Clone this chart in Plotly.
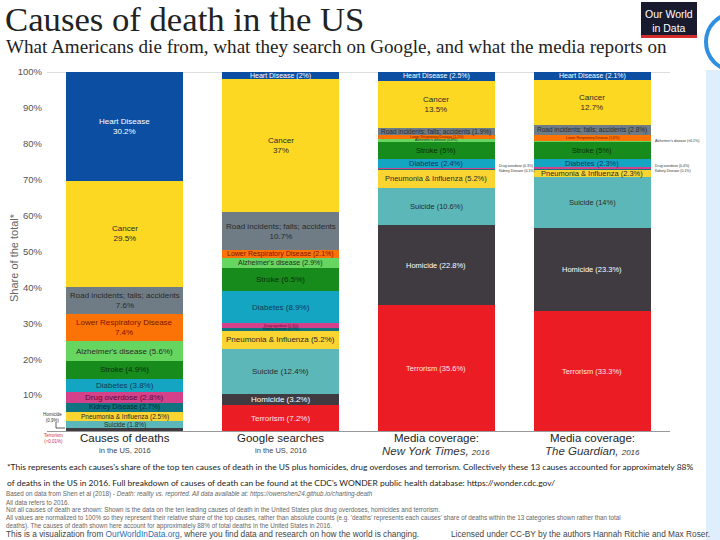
import plotly.graph_objects as go

# ---------------- data ----------------
columns = ["Causes of deaths", "Google searches", "Media coverage: New York Times", "Media coverage: The Guardian"]
causes = ["Terrorism", "Homicide", "Suicide", "Pneumonia & Influenza", "Kidney Disease",
          "Drug overdose", "Diabetes", "Stroke", "Alzheimer's disease",
          "Lower Respiratory Disease", "Road incidents; falls; accidents", "Cancer", "Heart Disease"]
deaths   = [0.005, 0.9, 1.8, 2.5, 2.7, 2.8, 3.8, 4.9, 5.6, 7.4, 7.6, 29.5, 30.2]
google   = [7.2, 3.2, 12.4, 5.2, 0.7, 1.3, 8.9, 6.5, 2.9, 2.1, 10.7, 37.0, 2.0]
nyt      = [35.6, 22.8, 10.6, 5.2, 0.1, 0.3, 2.4, 5.0, 0.8, 1.1, 1.9, 13.5, 2.5]
guardian = [33.3, 23.3, 14.0, 2.3, 0.1, 0.4, 2.3, 5.0, 0.05, 1.6, 2.8, 12.7, 2.1]
series = [deaths, google, nyt, guardian]
ytick_vals = [10, 20, 30, 40, 50, 60, 70, 80, 90, 100]

# ---------------- styles ----------------
colors = {"Terrorism": "#ec1c24", "Homicide": "#403b41", "Suicide": "#5cb8b8",
          "Pneumonia & Influenza": "#fad532", "Kidney Disease": "#0f7480",
          "Drug overdose": "#d5408a", "Diabetes": "#14a5c3", "Stroke": "#178b1b",
          "Alzheimer's disease": "#66d660", "Lower Respiratory Disease": "#fb7306",
          "Road incidents; falls; accidents": "#6f7c85", "Cancer": "#fdd822",
          "Heart Disease": "#0b4ea2"}
text_colors = {"Heart Disease": "white", "Homicide": "white", "Terrorism": "#ffe3e3",
               "Lower Respiratory Disease": "#7a1500", "Drug overdose": "#5e0c30",
               "Stroke": "#0d300d", "Diabetes": "#123a55", "Kidney Disease": "#062a2e"}
H, C, R, LR, AZ, ST, DB, DO, KD, PI, SU, HO, TE = ("Heart Disease", "Cancer",
    "Road incidents; falls; accidents", "Lower Respiratory Disease", "Alzheimer's disease",
    "Stroke", "Diabetes", "Drug overdose", "Kidney Disease", "Pneumonia & Influenza",
    "Suicide", "Homicide", "Terrorism")
label_styles = [
    {H: ("2", 8), C: ("2", 8), R: ("2", 8), LR: ("2", 8), AZ: ("1", 8), ST: ("1", 8),
     DB: ("1", 8), DO: ("1", 8), KD: ("1", 7), PI: ("1", 6.5), SU: ("1", 6.5),
     HO: ("L", 4.5), TE: ("L", 4.5)},
    {H: ("1", 7), C: ("2", 8), R: ("2", 8), LR: ("1", 7), AZ: ("1", 7), ST: ("1", 8),
     DB: ("1", 8), DO: ("1", 3.5), KD: ("1", 3.5), PI: ("1", 8), SU: ("1", 8),
     HO: ("1", 8), TE: ("1", 8)},
    {H: ("1", 7), C: ("2", 8), R: ("1", 6.5), LR: ("1", 3.5), AZ: ("1", 3.5), ST: ("1", 7.5),
     DB: ("1", 7.5), DO: ("R", 3.5), KD: ("R", 3.5), PI: ("1", 7.5), SU: ("1", 7.5),
     HO: ("1", 7.5), TE: ("1", 7.5)},
    {H: ("1", 7), C: ("2", 8), R: ("1", 6.5), LR: ("1", 3.5), AZ: ("R", 3.5), ST: ("1", 7.5),
     DB: ("1", 7.5), DO: ("R", 3.5), KD: ("R", 3.5), PI: ("1", 7.5), SU: ("1", 7.5),
     HO: ("1", 7.5), TE: ("1", 7.5)},
]

FONT = "Liberation Sans, Arial, sans-serif"
L, Rm, T, B = 47, 50, 72, 109
W, HH = 720, 540
PW, PH = W - L - Rm, HH - T - B


def px(x):
    return (x - L) / PW


def py(y):
    return (HH - B - y) / PH


def fmt(v):
    if v < 0.01:
        return "<0.01"
    if v < 0.1:
        return "<0.1"
    return "%g" % v


# normalise each column to 100% (as in the original chart)
norm = [[v / sum(s) * 100 for v in s] for s in series]

fig = go.Figure()
xs = list(range(len(columns)))
for k, cause in enumerate(causes):
    fig.add_trace(go.Bar(x=xs, y=[norm[c][k] for c in xs], name=cause, width=0.75,
                         marker=dict(color=colors[cause], line=dict(width=0)),
                         hoverinfo="skip", showlegend=False))

ann = []
for c in xs:
    cum = 0
    for k, cause in enumerate(causes):
        h = norm[c][k]
        mid = cum + h / 2
        cum += h
        mode, size = label_styles[c][cause]
        val = fmt(series[c][k])
        tc = text_colors.get(cause, "#2a2a2a")
        if mode == "2":
            ann.append(dict(x=c, y=mid, text=f"{cause}<br>{val}%", font=dict(size=size, color=tc)))
        elif mode == "1":
            ann.append(dict(x=c, y=mid, text=f"{cause} ({val}%)", font=dict(size=size, color=tc)))
        elif mode == "R":
            ys = {"Drug overdose": 2, "Kidney Disease": -2}.get(cause, 0)
            ann.append(dict(x=c + 0.375, y=mid, text=f"{cause} ({val}%)", xanchor="left",
                            xshift=2, yshift=ys, font=dict(size=size, color="#333")))
        elif mode == "L":
            if cause == "Homicide":
                ann.append(dict(x=c - 0.375, y=mid, text=f"{cause}<br>({val}%)", xanchor="right",
                                xshift=-2, yshift=12, font=dict(size=size, color="#333")))
            else:
                ann.append(dict(x=c - 0.375, y=mid, text=f"{cause}<br>({val}%)", xanchor="right",
                                xshift=-1, yshift=-8, font=dict(size=size, color="#d0304a")))
for a in ann:
    a.setdefault("xref", "x")
    a.setdefault("yref", "y")
    a.setdefault("showarrow", False)
    a.setdefault("xanchor", "center")
    a.setdefault("yanchor", "middle")

# column captions
caps = [("Causes of deaths", "in the US, 2016", False),
        ("Google searches", "in the US, 2016", False),
        ("Media coverage:", "<i>New York Times, <span style='font-size:8px'>2016</span></i>", True),
        ("Media coverage:", "<i>The Guardian, <span style='font-size:8px'>2016</span></i>", True)]
for c, (t1, t2, big) in enumerate(caps):
    ann.append(dict(x=c, y=py(438), xref="x", yref="paper", text=t1, showarrow=False,
                    font=dict(size=11.5, color="#222"), yanchor="middle"))
    ann.append(dict(x=c, y=py(451 if big else 450), xref="x", yref="paper", text=t2, showarrow=False,
                    font=dict(size=11.5 if big else 7.5, color="#333" if big else "#444"), yanchor="middle"))

def pann(x, y, text, size, color="#333", family=FONT, xanchor="left", **kw):
    ann.append(dict(x=px(x), y=py(y), xref="paper", yref="paper", text=text, showarrow=False,
                    xanchor=xanchor, yanchor="middle", font=dict(size=size, color=color, family=family), **kw))

SERIF = "Liberation Serif, DejaVu Serif, serif"
pann(3, 20, "Causes of death in the US", 34.7, "#222", SERIF)
pann(4, 47, "What Americans die from, what they search on Google, and what the media reports on", 19.1, "#222", SERIF)
pann(669, 21, "Our World<br>in Data", 10.5, "white", FONT, xanchor="center")
pann(14, 258, "Share of the total*", 11, "#666", textangle=-90, xanchor="center")

NARROW = "Lato, Roboto, sans-serif"
pann(5, 467, "*This represents each causes's share of the top ten causes of death in the US plus homicides, drug overdoses and terrorism. Collectively these 13 causes accounted for approximately 88%", 8.45, "#222", NARROW)
pann(5, 483, "of deaths in the US in 2016. Full breakdown of causes of death can be found at the CDC's WONDER public health database: https://wonder.cdc.gov/", 8.45, "#222", NARROW)
src = ["Based on data from Shen et al (2018) - <i>Death: reality vs. reported. All data available at: https://owenshen24.github.io/charting-death</i>",
       "All data refers to 2016.",
       "Not all causes of death are shown: Shown is the data on the ten leading causes of death in the United States plus drug overdoses, homicides and terrorism.",
       "All values are normalized to 100% so they represent their relative share of the top causes, rather than absolute counts (e.g. 'deaths' represents each causes' share of deaths within the 13 categories shown rather than total",
       "deaths). The causes of death shown here account for approximately 88% of total deaths in the United States in 2016."]
for i, s in enumerate(src):
    pann(4, 494 + i * 8, s, 6.3, "#666")
pann(4, 534, "This is a visualization from <span style='color:#1f6fb5'>OurWorldInData.org</span>, where you find data and research on how the world is changing.", 8.3, "#444")
pann(712, 534, "Licensed under CC-BY by the authors Hannah Ritchie and Max Roser.", 8.3, "#444", xanchor="right")

shapes = [
    dict(type="line", xref="paper", yref="y", x0=0, x1=1, y0=100, y1=100, line=dict(color="#bbbbbb", width=1), layer="below"),
    dict(type="rect", xref="paper", yref="paper", x0=px(641), x1=px(697), y0=py(38), y1=py(2),
         fillcolor="#1a1a2e", line=dict(width=0)),
    dict(type="rect", xref="paper", yref="paper", x0=px(641), x1=px(697), y0=py(38), y1=py(35),
         fillcolor="#d42b2b", line=dict(width=0)),
    dict(type="line", xref="paper", yref="paper", x0=px(56), x1=px(56), y0=py(422), y1=py(428), line=dict(color="#333", width=0.8)),
    dict(type="line", xref="paper", yref="paper", x0=px(56), x1=px(65), y0=py(428), y1=py(428), line=dict(color="#333", width=0.8)),
    dict(type="circle", xref="paper", yref="paper", x0=px(706), x1=px(760), y0=py(70), y1=py(14),
         line=dict(color="#2f8fe0", width=4)),
    dict(type="rect", xref="paper", yref="paper", x0=px(706), x1=px(720), y0=py(540), y1=py(70),
         fillcolor="rgba(160,205,245,0.35)", line=dict(width=0)),
]

fig.update_layout(
    width=W, height=HH, barmode="stack", bargap=0.25,
    margin=dict(l=L, r=Rm, t=T, b=B),
    paper_bgcolor="white", plot_bgcolor="white",
    font=dict(family=FONT, color="#333"),
    xaxis=dict(range=[-0.5, 3.5], showticklabels=False, showgrid=False, zeroline=False,
               showline=True, linecolor="#999", linewidth=1, ticks=""),
    yaxis=dict(range=[0, 100], tickvals=ytick_vals, ticktext=[f"{v}%" for v in ytick_vals],
               showgrid=False, zeroline=False, showline=False, ticks="",
               tickfont=dict(size=9.5, color="#555"), ticklabelstandoff=4),
    annotations=ann, shapes=shapes,
)
fig.write_html("out.html")
